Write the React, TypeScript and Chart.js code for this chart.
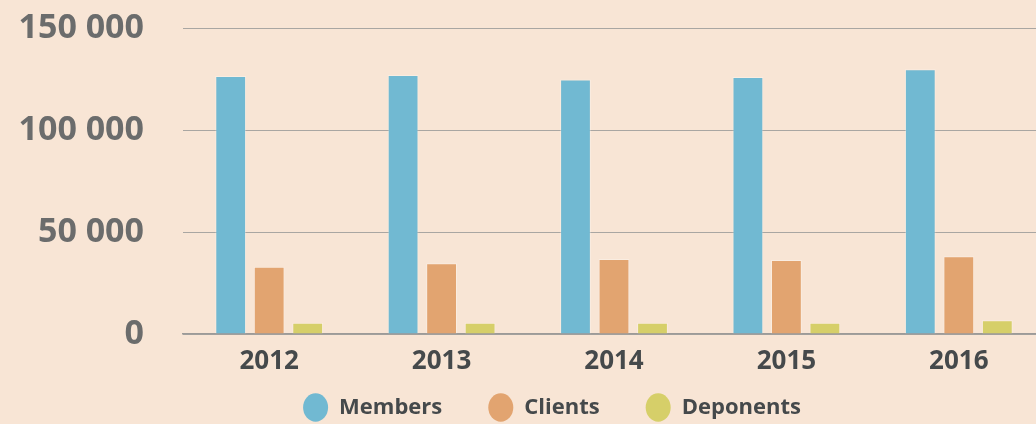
import React, { useEffect, useRef } from "react";
import { Chart, registerables } from "chart.js";

Chart.register(...registerables);

const categories = ["2012", "2013", "2014", "2015", "2016"];
const members = [126500, 127000, 124800, 126000, 129800];
const clients = [33000, 34700, 36800, 36300, 38100];
const deponents = [5500, 5500, 5500, 5500, 6700];
const seriesNames = ["Members", "Clients", "Deponents"];
const seriesColors = ["#71b9d2", "#e2a470", "#d6cf69"];
const yTicks = [0, 50000, 100000, 150000];

const fmt = (v: number) => String(v).replace(/\B(?=(\d{3})+(?!\d))/g, " ");

// Places the legend row: centred on a band that starts 59px in, just below the year labels.
const legendPlacer = {
  id: "legendPlacer",
  afterLayout(chart: any) {
    const lg = chart.legend;
    if (!lg) return;
    lg.left = 59;
    lg.right = chart.chartArea.right;
    lg.top = chart.chartArea.bottom + 16.5;
    lg.bottom = chart.height;
    lg.height = lg.bottom - lg.top;
    lg.width = lg.right - lg.left;
  },
};

export default function App() {
  const ref = useRef<HTMLCanvasElement>(null);
  useEffect(() => {
    const values = [members, clients, deponents];
    const chart = new Chart(ref.current!, {
      type: "bar",
      data: {
        labels: categories,
        datasets: seriesNames.map((name, i) => ({
          label: name,
          data: values[i],
          backgroundColor: seriesColors[i],
          borderColor: "rgba(255,255,255,0.3)",
          borderWidth: 1,
          categoryPercentage: 0.67,
          barPercentage: 0.8,
        })),
      },
      plugins: [legendPlacer],
      options: {
        animation: false,
        responsive: false,
        layout: { padding: { top: 28, left: 0, right: 5, bottom: 0 } },
        font: { family: "'Open Sans'" },
        scales: {
          x: {
            grid: { display: false, drawTicks: false },
            border: { display: true, color: "#9c9a98", width: 1.5 },
            ticks: {
              padding: 12,
              color: "#45494b",
              font: { family: "'Open Sans'", size: 26, weight: "bold" },
            },
            afterFit: (s: any) => {
              s.height = 44;
              s.paddingLeft = 0;
              s.paddingRight = 0;
            },
          },
          y: {
            min: yTicks[0],
            max: yTicks[yTicks.length - 1],
            afterBuildTicks: (s: any) => {
              s.ticks = yTicks.map((v) => ({ value: v }));
            },
            grid: { color: "#a9a6a2", lineWidth: 1, drawTicks: false },
            border: { display: false },
            ticks: {
              padding: 39,
              color: "#6b6c6c",
              font: { family: "'Open Sans'", size: 34, weight: "bold" },
              callback: (v: any) => fmt(Number(v)),
            },
            afterFit: (s: any) => {
              s.width = 183;
              s.paddingTop = 0;
              s.paddingBottom = 0;
            },
          },
        },
        plugins: {
          tooltip: { enabled: false },
          legend: {
            position: "bottom",
            maxHeight: 46,
            labels: {
              usePointStyle: true,
              pointStyle: "circle",
              pointStyleWidth: 25,
              boxHeight: 20,
              padding: 46,
              color: "#45494b",
              font: { family: "'Open Sans'", size: 22, weight: "bold" },
              generateLabels: (c: any) =>
                (Chart.defaults.plugins.legend.labels as any)
                  .generateLabels(c)
                  .map((l: any) => ({ ...l, lineWidth: 0, strokeStyle: "rgba(0,0,0,0)" })),
            },
          } as any,
        },
      } as any,
    });
    return () => chart.destroy();
  }, []);
  return (
    <div
      style={{
        position: "fixed",
        left: 0,
        top: 0,
        width: 1036,
        height: 424,
        overflow: "hidden",
        background: "#f8e5d5",
      }}
    >
      <canvas ref={ref} width={1050} height={424} style={{ display: "block" }} />
    </div>
  );
}
